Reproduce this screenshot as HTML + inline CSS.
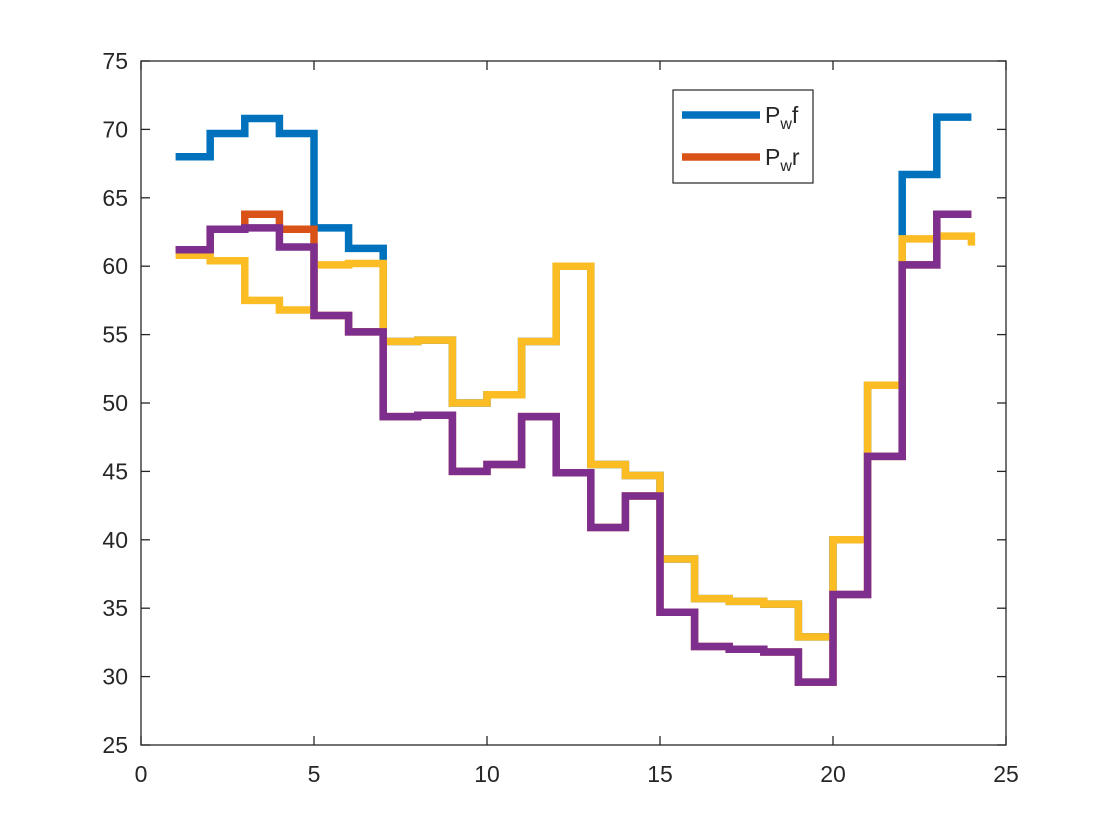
<!DOCTYPE html>
<html><head><meta charset="utf-8"><style>
body{margin:0;background:#fff}
svg{display:block}
text{font-family:"Liberation Sans",sans-serif;fill:#262626}
</style></head><body>
<svg id="s" width="1109" height="834" xmlns="http://www.w3.org/2000/svg">
<rect x="0" y="0" width="1109" height="834" fill="#fff"/>
<g id="plot"></g>
<rect x="141" y="61" width="865" height="684" fill="none" stroke="#262626" stroke-width="1.3"/>
<g id="ticks" stroke="#262626" stroke-width="1.3"></g>
<g id="labels" font-size="23"></g>
<rect x="673" y="90" width="140" height="93" fill="#fff" stroke="#262626" stroke-width="1.2"/>
<line x1="682" y1="115" x2="760" y2="115" stroke="#0072BD" stroke-width="7.5"/>
<line x1="682" y1="157" x2="760" y2="157" stroke="#D95319" stroke-width="7.5"/>
<text x="765" y="123" font-size="23">P<tspan font-size="16" dy="6">w</tspan><tspan dy="-6">f</tspan></text>
<text x="765" y="165" font-size="23">P<tspan font-size="16" dy="6">w</tspan><tspan dy="-6">r</tspan></text>
</svg>
<script>
var X=function(v){return 141+v*34.6},Y=function(v){return 745-(v-25)*13.68};
var yel=[60.8,60.4,57.5,56.8,60.1,60.2,54.5,54.6,50,50.6,54.5,60,45.5,44.7,38.6,35.7,35.5,35.3,32.9,40,51.3,62,62.2,61.5];
var pur=[61.2,62.7,62.8,61.4,56.4,55.2,49,49.1,45,45.5,49,44.9,40.9,43.2,34.7,32.2,32,31.8,29.6,36,46.1,60.1,63.8,63.8];
var blu=[68,69.7,70.8,69.7,62.8,61.3].concat(yel.slice(6,21)).concat([66.7,70.9,70.9]);
var red=pur.slice();red[2]=63.8;red[3]=62.7;
function path(d,c,last){var s="M"+X(1)+" "+Y(d[0]);for(var i=1;i<24;i++){s+=" L"+X(i+1)+" "+Y(d[i-1])+" L"+X(i+1)+" "+Y(d[i]);}
if(last!==undefined)s+=" L"+X(24)+" "+Y(last);
return '<path d="'+s+'" fill="none" stroke="'+c+'" stroke-width="7.5" stroke-linejoin="miter" stroke-linecap="butt"/>';}
var g=path(blu,"#0072BD")+path(red,"#D95319")+path(yel.slice(0,23).concat([62.2]),"#FBBC24",61.5)+path(pur,"#7E2F8E");
document.getElementById("plot").innerHTML=g;
var t="",l="";
for(var v=0;v<=25;v+=5){var x=X(v);t+='<line x1="'+x+'" y1="745" x2="'+x+'" y2="736"/><line x1="'+x+'" y1="61" x2="'+x+'" y2="70"/>';l+='<text x="'+x+'" y="782" text-anchor="middle">'+v+'</text>';}
for(var v=25;v<=75;v+=5){var y=Y(v);t+='<line x1="141" y1="'+y+'" x2="150" y2="'+y+'"/><line x1="1006" y1="'+y+'" x2="997" y2="'+y+'"/>';l+='<text x="128" y="'+(y+8)+'" text-anchor="end">'+v+'</text>';}
document.getElementById("ticks").innerHTML=t;document.getElementById("labels").innerHTML=l;
</script>
</body></html>
